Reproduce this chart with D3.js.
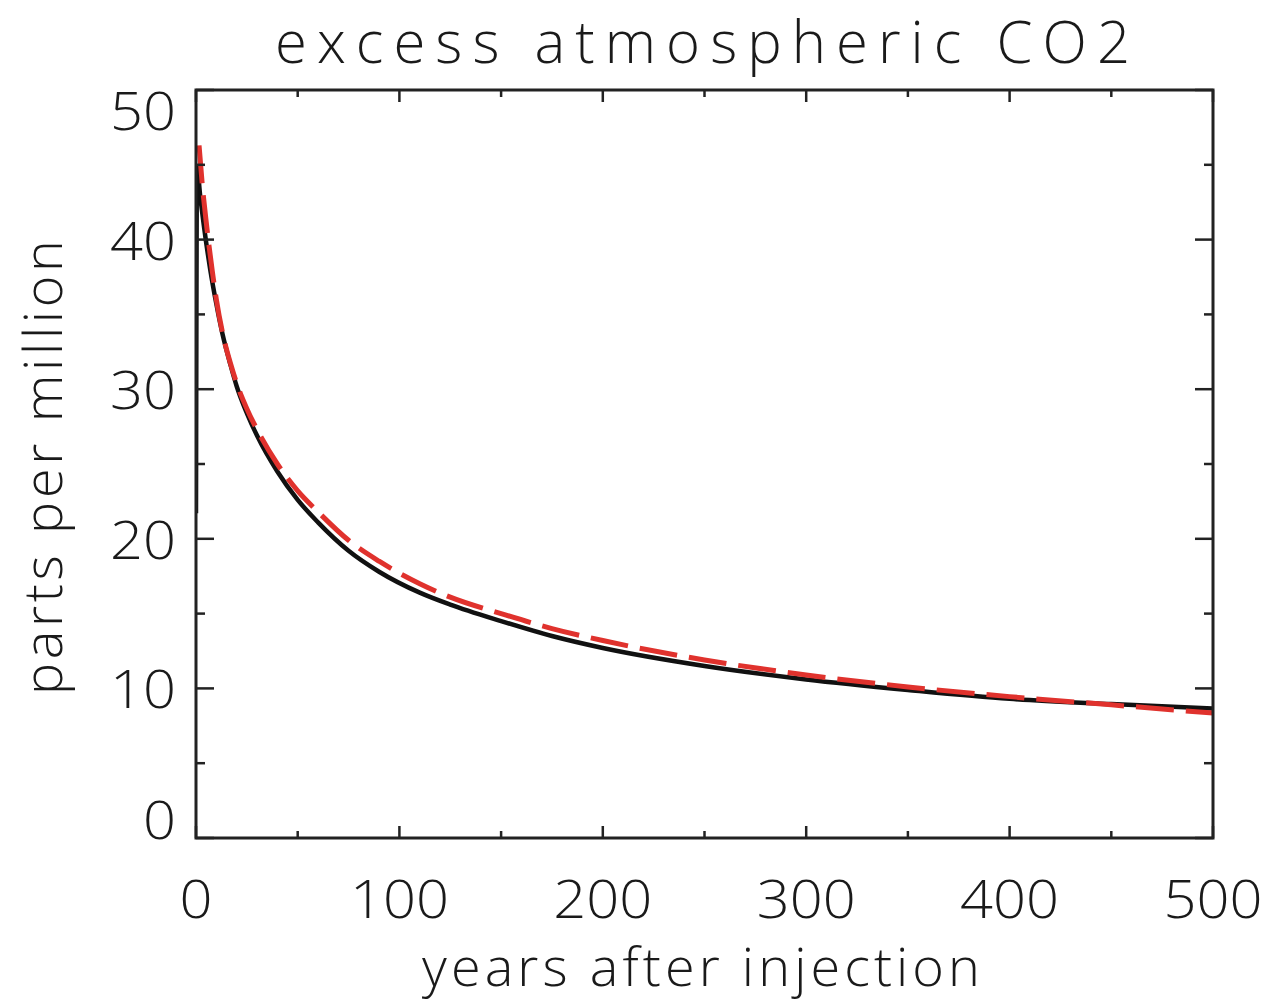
<!DOCTYPE html>
<html><head><meta charset="utf-8">
<script src="https://cdn.jsdelivr.net/npm/d3@7"></script>
<style>
html,body{margin:0;padding:0;background:#fff;}
text{font-family:"Open Sans","DejaVu Sans",sans-serif;font-weight:300;fill:#1a1a1a;}
</style></head>
<body>
<svg id="chart" width="1270" height="1004"></svg>
<script>
// ---- data ----
const titleText = "excess atmospheric CO2";
const xLabelText = "years after injection";
const yLabelText = "parts per million";

const xTicks = [0, 100, 200, 300, 400, 500];
const xMinorTicks = [50, 150, 250, 350, 450];
const yTicks = [0, 10, 20, 30, 40, 50];
const yMinorTicks = [5, 15, 25, 35, 45];

// model (solid black)
const modelYears = [0, 0.5, 2, 4, 7, 10, 13, 17, 20, 25, 30, 40, 50, 60, 75, 90, 110, 125, 150, 175, 200, 250, 300, 350, 400, 450, 500];
const modelPpm   = [21.7, 44.9, 43.0, 40.8, 38.0, 35.7, 33.7, 31.6, 30.2, 28.4, 26.9, 24.5, 22.6, 21.1, 19.2, 17.8, 16.4, 15.6, 14.5, 13.5, 12.7, 11.5, 10.6, 9.9, 9.3, 8.95, 8.65];

// fit (dashed red)
const fitYears = [1.5, 3, 5, 8, 10, 13, 17, 20, 25, 30, 40, 50, 60, 75, 90, 110, 125, 150, 175, 200, 250, 300, 350, 400, 450, 500];
const fitPpm   = [46.3, 43.8, 41.2, 37.9, 36.0, 33.8, 31.7, 30.4, 28.7, 27.3, 25.0, 23.2, 21.8, 19.9, 18.5, 17.0, 16.1, 15.0, 14.0, 13.2, 11.9, 10.9, 10.1, 9.45, 8.9, 8.35];

// ---- layout ----
const svg = d3.select("#chart");
const L = 196, R = 1213, T = 90, B = 838;
const x = d3.scaleLinear().domain([0, 500]).range([L, R]);
const y = d3.scaleLinear().domain([0, 50]).range([B, T]);

const frameColor = "#222";

// curves
const line = d3.line().x(d => x(d[0])).y(d => y(d[1])).curve(d3.curveMonotoneX);
svg.append("clipPath").attr("id", "clip").append("rect")
  .attr("x", L).attr("y", T).attr("width", R - L).attr("height", B - T);

const plot = svg.append("g").attr("clip-path", "url(#clip)");
plot.append("path")
  .datum(d3.zip(modelYears, modelPpm))
  .attr("d", line).attr("fill", "none").attr("stroke", "#111").attr("stroke-width", 4.5);
plot.append("path")
  .datum(d3.zip(fitYears, fitPpm))
  .attr("d", line).attr("fill", "none").attr("stroke", "#e0322d").attr("stroke-width", 5)
  .attr("stroke-dasharray", "38,12");

// frame
svg.append("rect").attr("x", L).attr("y", T).attr("width", R - L).attr("height", B - T)
  .attr("fill", "none").attr("stroke", frameColor).attr("stroke-width", 3);

// ticks
const tk = svg.append("g").attr("stroke", frameColor).attr("stroke-width", 2.5);
xTicks.forEach(v => {
  tk.append("line").attr("x1", x(v)).attr("x2", x(v)).attr("y1", B).attr("y2", B - 12);
  tk.append("line").attr("x1", x(v)).attr("x2", x(v)).attr("y1", T).attr("y2", T + 12);
});
xMinorTicks.forEach(v => {
  tk.append("line").attr("x1", x(v)).attr("x2", x(v)).attr("y1", B).attr("y2", B - 7);
  tk.append("line").attr("x1", x(v)).attr("x2", x(v)).attr("y1", T).attr("y2", T + 7);
});
yTicks.forEach(v => {
  tk.append("line").attr("x1", L).attr("x2", L + 18).attr("y1", y(v)).attr("y2", y(v));
  tk.append("line").attr("x1", R).attr("x2", R - 18).attr("y1", y(v)).attr("y2", y(v));
});
yMinorTicks.forEach(v => {
  tk.append("line").attr("x1", L).attr("x2", L + 9).attr("y1", y(v)).attr("y2", y(v));
  tk.append("line").attr("x1", R).attr("x2", R - 9).attr("y1", y(v)).attr("y2", y(v));
});

// tick labels
const fs = 54;
const digitW = 33;
xTicks.forEach(v => {
  const s = String(v);
  svg.append("text").attr("x", x(v)).attr("y", 918).attr("text-anchor", "middle")
    .attr("font-size", fs).attr("textLength", s.length * digitW).attr("lengthAdjust", "spacingAndGlyphs").text(s);
});
yTicks.forEach(v => {
  const s = String(v);
  let cy = y(v);
  cy = Math.max(T + 20, Math.min(B - 19, cy));
  svg.append("text").attr("x", 176).attr("y", cy + 20).attr("text-anchor", "end")
    .attr("font-size", fs).attr("textLength", s.length * digitW).attr("lengthAdjust", "spacingAndGlyphs").text(s);
});

// title
svg.append("text").attr("x", 275).attr("y", 63).attr("font-size", 58)
  .attr("textLength", 855).attr("lengthAdjust", "spacing").text(titleText);

// x label
svg.append("text").attr("x", 422).attr("y", 986).attr("font-size", 54)
  .attr("textLength", 558).attr("lengthAdjust", "spacing").text(xLabelText);

// y label
svg.append("text").attr("transform", "translate(62,695) rotate(-90)").attr("font-size", 54)
  .attr("textLength", 455).attr("lengthAdjust", "spacing").text(yLabelText);
</script>
</body></html>
